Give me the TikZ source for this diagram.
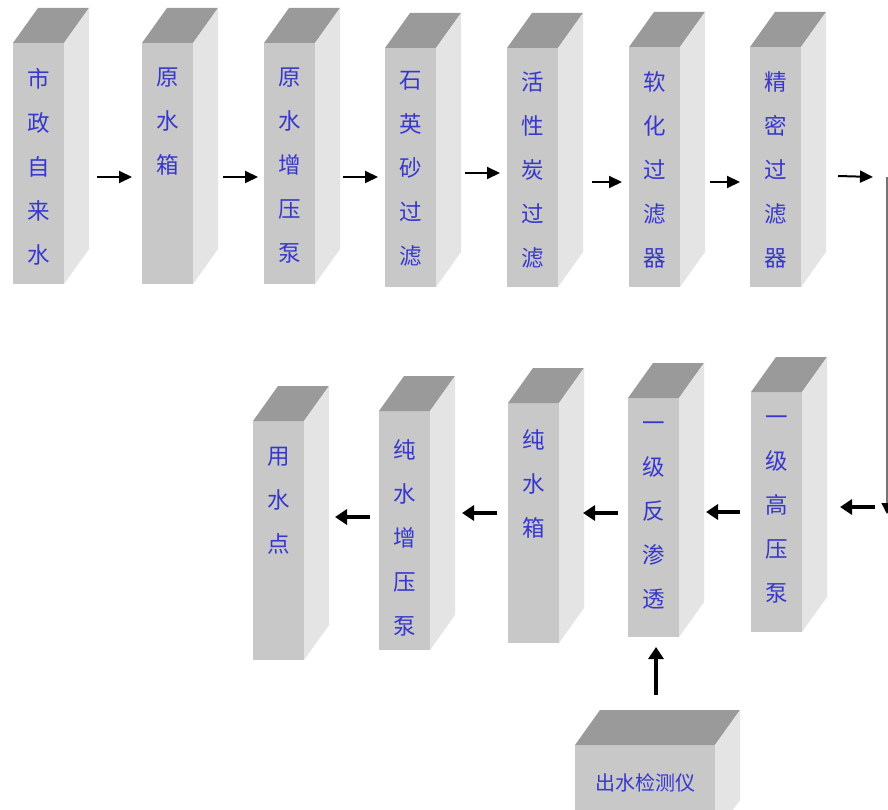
\documentclass[tikz,border=0pt]{standalone}
\usepackage{fontspec}
\newfontfamily\cjk{Noto Sans CJK SC}
\usetikzlibrary{arrows.meta,calc}
\definecolor{facefront}{HTML}{C8C8C8}
\definecolor{facetop}{HTML}{9A9A9A}
\definecolor{faceside}{HTML}{E4E4E4}
\definecolor{labelblue}{RGB}{55,55,205}
\newcommand\prismfaces[1]{%
  \fill[facetop] (#1.north west) -- ++(25,-35) -- ($(#1.north east)+(25,-35)$) -- (#1.north east) -- cycle;
  \fill[faceside] (#1.north east) -- ++(25,-35) -- ($(#1.south east)+(25,-35)$) -- (#1.south east) -- cycle;}
\begin{document}
\begin{tikzpicture}[x=1pt,y=-1pt,
  front/.style={fill=facefront, draw=none, minimum width=51pt, minimum height=240pt, anchor=north west, inner sep=0pt, outer sep=0pt},
  vlabel/.style={font=\cjk\fontsize{22.5}{44}\selectfont, text=labelblue, align=center, anchor=north, inner sep=0pt},
  hlabel/.style={font=\cjk\fontsize{20}{24}\selectfont, text=labelblue, inner sep=0pt},
  arrt/.style={line width=2pt, -{Triangle[length=13pt,width=12pt]}},
  arrb/.style={line width=3.5pt, -{Triangle[length=12pt,width=15pt]}},
  vline/.style={line width=1.5pt, draw=black!55, -{Triangle[length=11pt,width=11pt,fill=black,color=black]}}]
\useasboundingbox (0,0) rectangle (888,810);
\fill[white] (0,0) rectangle (888,810);
% top row
\node[front, minimum height=241pt] (b1) at (13,43) {};
\node[front, minimum height=241pt] (b2) at (142,43) {};
\node[front, minimum height=241pt] (b3) at (264,43) {};
\node[front, minimum height=239pt] (b4) at (385,48) {};
\node[front, minimum height=239pt] (b5) at (507,48) {};
\node[front] (b6) at (629,47) {};
\node[front] (b7) at (750,47) {};
% bottom row
\node[front, minimum height=239pt] (b8) at (253,421) {};
\node[front, minimum height=239pt] (b9) at (379,411) {};
\node[front] (b10) at (508,403) {};
\node[front, minimum height=239pt] (b11) at (628,398) {};
\node[front] (b12) at (751,392) {};
\node[front, minimum width=140pt, minimum height=90pt] (d) at (575,745) {};
\foreach \b in {b1,b2,b3,b4,b5,b6,b7,b8,b9,b10,b11,b12,d} {\prismfaces{\b}}
% labels
\node[vlabel] (t1) at ($(b1.north)+(0,25)$) {市\\政\\自\\来\\水};
\node[vlabel] (t2) at ($(b2.north)+(0,25)$) {原\\水\\箱};
\node[vlabel] (t3) at ($(b3.north)+(0,25)$) {原\\水\\增\\压\\泵};
\node[vlabel] (t4) at ($(b4.north)+(0,23)$) {石\\英\\砂\\过\\滤};
\node[vlabel] (t5) at ($(b5.north)+(0,23)$) {活\\性\\炭\\过\\滤};
\node[vlabel] (t6) at ($(b6.north)+(0,24)$) {软\\化\\过\\滤\\器};
\node[vlabel] (t7) at ($(b7.north)+(0,24)$) {精\\密\\过\\滤\\器};
\node[vlabel] (t8) at ($(b8.north)+(0,26)$) {用\\水\\点};
\node[vlabel] (t9) at ($(b9.north)+(0,28)$) {纯\\水\\增\\压\\泵};
\node[vlabel] (t10) at ($(b10.north)+(0,26)$) {纯\\水\\箱};
\node[vlabel] (t11) at ($(b11.north)+(0,24)$) {一\\级\\反\\渗\\透};
\node[vlabel] (t12) at ($(b12.north)+(0,24)$) {一\\级\\高\\压\\泵};
\node[hlabel] (td) at ($(d.north)+(0,38)$) {出水检测仪};
% connectors
\coordinate (c1) at (887,177);
\coordinate (c2) at (887,514);
\draw[arrt] ($(b1.north east)+(33,134)$) -- ($(b2.north west)+(-10,134)$);
\draw[arrt] ($(b2.north east)+(30,134)$) -- ($(b3.north west)+(-6,134)$);
\draw[arrt] ($(b3.north east)+(28,134)$) -- ($(b4.north west)+(-7,129)$);
\draw[arrt] ($(b4.north east)+(29,125)$) -- ($(b5.north west)+(-7,125)$);
\draw[arrt] ($(b5.north east)+(34,134)$) -- ($(b6.north west)+(-7,135)$);
\draw[arrt] ($(b6.north east)+(30,135)$) -- ($(b7.north west)+(-10,135)$);
\draw[arrt] ($(b7.north east)+(37,129)$) -- ($(c1)+(-14,0)$);
\draw[vline] (c1) -- (c2);
\draw[arrb] ($(c2)+(-12,-7)$) -- ($(b12.north east)+(38,115)$);
\draw[arrb] ($(b12.north west)+(-11,120)$) -- ($(b11.north east)+(27,114)$);
\draw[arrb] ($(b11.north west)+(-10,115)$) -- ($(b10.north east)+(24,110)$);
\draw[arrb] ($(b10.north west)+(-11,110)$) -- ($(b9.north east)+(32,102)$);
\draw[arrb] ($(b9.north west)+(-9,106)$) -- ($(b8.north east)+(31,96)$);
\draw[arrb] ($(d.north west)+(81,-50)$) -- ($(b11.south west)+(28,10)$);
\end{tikzpicture}
\end{document}
